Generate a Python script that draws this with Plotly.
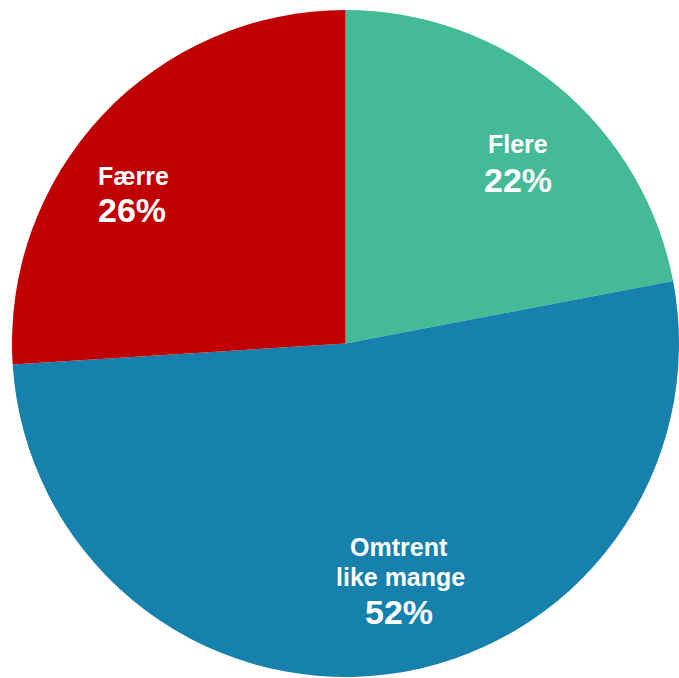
import plotly.graph_objects as go

# Share of respondents per answer category
labels = ["Flere", "Omtrent like mange", "Færre"]
label_lines = [["Flere"], ["Omtrent", "like mange"], ["Færre"]]
values = [22, 52, 26]
colors = ["#45BA97", "#1681AD", "#C00000"]

W, H = 679, 678

fig = go.Figure(
    go.Pie(
        labels=labels,
        values=values,
        sort=False,
        direction="clockwise",
        rotation=0,
        marker=dict(colors=colors, line=dict(width=0)),
        textinfo="none",
        hoverinfo="label+percent",
        domain=dict(x=[12 / W, 1.0], y=[1 / H, 668 / H]),
        showlegend=False,
    )
)

# Label placement (pixel centres of the name lines and of the percentage)
name_pos = [[(518, 144)], [(399, 547), (400, 577)], [(133, 176)]]
pct_pos = [(518, 180), (399, 612), (132, 210)]

font_family = "Liberation Sans, Arial, sans-serif"
annotations = []
for lines, positions, v, (px, py) in zip(label_lines, name_pos, values, pct_pos):
    for text, (lx, ly) in zip(lines, positions):
        annotations.append(dict(
            x=lx / W, y=1 - ly / H, xref="paper", yref="paper",
            text=f"<b>{text}</b>", showarrow=False,
            xanchor="center", yanchor="middle",
            font=dict(family=font_family, size=25, color="white"),
        ))
    annotations.append(dict(
        x=px / W, y=1 - py / H, xref="paper", yref="paper",
        text=f"<b>{v}%</b>", showarrow=False,
        xanchor="center", yanchor="middle",
        font=dict(family=font_family, size=34, color="white"),
    ))

fig.update_layout(
    width=W, height=H,
    margin=dict(l=0, r=0, t=0, b=0),
    paper_bgcolor="white",
    plot_bgcolor="white",
    annotations=annotations,
)

fig.write_html("out.html")
